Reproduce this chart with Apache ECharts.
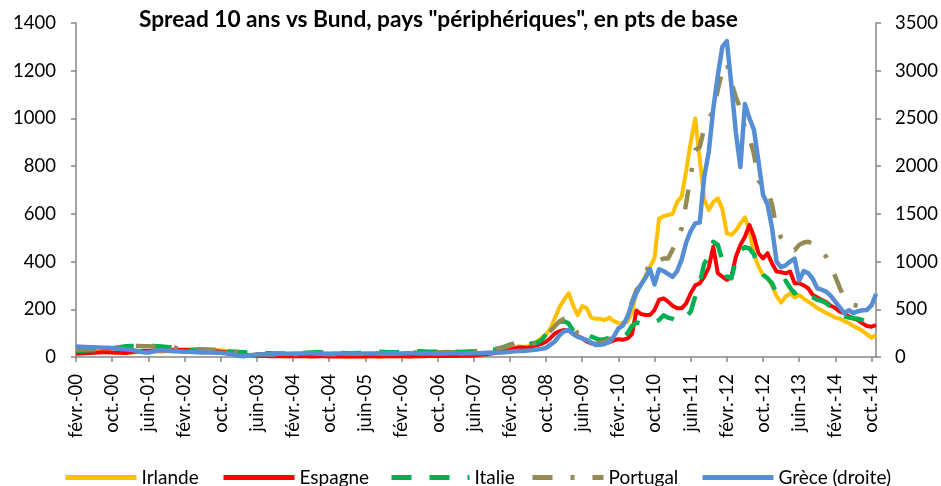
<!DOCTYPE html>
<html>
<head>
<meta charset="utf-8">
<script src="https://cdn.jsdelivr.net/npm/echarts@6/dist/echarts.min.js"></script>
<style>
html,body{margin:0;padding:0;background:#fff;}
#c{width:941px;height:486px;}
</style>
</head>
<body>
<div id="c"></div>
<script>
// Month labels (French Excel style), series run from févr.-00 to nov.-14
const monthNames = ['janv.','févr.','mars','avr.','mai','juin','juil.','août','sept.','oct.','nov.','déc.'];
const startYear = 2000, startMonth = 1, nMonths = 178;
const categories = [];
for (let k = 0; k < nMonths; k++) {
  const m = (startMonth + k) % 12;
  const y = startYear + Math.floor((startMonth + k) / 12);
  categories.push(monthNames[m] + '-' + String(y % 100).padStart(2, '0'));
}

const seriesNames = ['Irlande', 'Espagne', 'Italie', 'Portugal', 'Grèce (droite)'];

// Spreads in basis points (left axis)
const irlande = [
  18,17,18,20,20,22,21,20,19,20,19,
  18,19,20,22,24,25,24,23,22,24,25,26,
  28,30,32,34,33,32,31,30,29,28,26,22,
  18,14,12,10,8,6,5,5,4,4,4,3,
  3,3,4,4,3,3,4,5,4,4,3,3,
  3,2,2,3,3,4,3,3,2,2,3,3,
  3,3,2,2,3,3,4,4,3,3,4,4,
  5,5,6,6,7,8,12,15,18,20,24,26,
  28,33,40,45,42,45,55,65,80,95,120,165,
  210,240,267,215,176,213,205,165,160,160,155,165,
  150,142,140,148,185,280,300,340,378,415,580,590,
  595,600,650,672,780,900,1000,830,660,616,650,665,
  620,518,512,530,560,585,530,430,380,344,330,300,
  255,228,253,267,250,260,245,232,220,205,195,185,
  175,165,160,150,142,130,120,110,95,80,92
];
const espagne = [
  14,15,16,17,18,19,20,20,19,18,18,
  17,20,22,24,25,25,26,27,28,28,29,30,
  30,30,29,28,27,26,25,25,24,22,20,18,
  15,12,10,8,6,5,4,4,3,3,3,3,
  3,3,4,3,3,2,2,3,3,2,2,2,
  2,2,3,2,2,2,3,3,2,3,3,3,
  3,3,3,2,3,3,3,4,4,4,4,4,
  4,4,5,5,5,6,8,10,12,15,18,22,
  26,30,36,40,40,38,45,50,55,64,80,99,
  108,113,110,99,88,78,65,57,55,57,58,62,
  70,75,72,78,95,195,180,176,176,197,240,246,
  232,215,204,204,225,267,300,309,337,375,462,351,
  337,323,337,420,470,504,553,504,435,413,435,392,
  358,355,351,358,309,309,300,288,260,250,239,230,
  215,205,190,183,170,162,155,141,130,127,134
];
const italie = [
  25,26,27,28,28,30,32,33,35,38,42,
  45,46,46,45,45,46,46,45,44,42,40,38,
  35,32,30,28,27,26,26,25,25,24,24,23,
  22,21,20,19,18,17,16,16,16,15,15,15,
  15,16,17,18,18,19,20,20,19,18,18,18,
  17,16,16,17,18,20,21,22,22,21,20,20,
  20,21,22,24,25,24,23,22,22,23,24,24,
  23,22,21,22,23,24,25,26,28,30,32,38,
  45,52,57,55,52,50,58,60,70,95,120,141,
  148,150,140,110,99,106,95,85,78,72,75,80,
  88,92,85,99,130,145,140,148,148,148,155,175,
  165,160,150,148,169,190,253,309,392,420,483,470,
  406,337,330,406,448,460,455,430,375,345,330,309,
  267,302,320,290,267,281,275,260,250,240,235,225,
  210,190,183,170,165,162,160,155,148,150,155
];
const portugal = [
  30,30,31,32,33,34,35,36,38,40,42,
  44,45,46,46,45,45,44,44,43,42,40,38,
  36,34,33,33,32,32,31,30,30,28,26,24,
  22,20,18,16,14,12,12,11,11,10,10,10,
  10,11,12,12,13,13,14,14,13,12,12,12,
  12,12,13,14,14,15,15,16,16,16,15,15,
  15,16,17,18,19,19,18,18,19,20,20,21,
  20,20,21,22,23,24,26,28,30,32,35,38,
  42,50,57,55,52,50,55,60,70,90,110,130,
  150,160,160,127,99,85,70,57,55,60,66,71,
  100,105,135,175,230,281,300,340,406,410,405,413,
  413,450,490,540,644,760,868,880,960,1000,1030,1120,
  1200,1235,1150,1090,1040,960,920,850,740,715,700,640,
  540,500,470,455,448,470,480,483,475,465,440,420,
  385,337,290,246,225,218,215,212,210,215,220
];
// Greece, right axis
const grece = [
  110,108,105,103,102,100,98,96,94,90,85,
  80,75,68,58,48,46,58,68,72,68,64,60,
  58,56,54,52,50,48,47,46,45,44,40,32,
  22,12,8,15,22,26,28,30,31,32,33,34,
  35,36,36,37,38,38,37,36,35,35,36,36,
  36,35,34,34,35,36,37,37,36,35,35,36,
  37,37,38,38,38,37,36,36,36,37,37,38,
  38,38,37,37,38,39,40,42,44,45,46,48,
  50,55,60,62,64,68,72,78,85,95,130,165,
  230,270,283,240,210,195,178,150,126,128,135,160,
  215,300,330,420,560,670,760,830,920,760,920,900,
  870,840,900,1020,1200,1320,1400,1410,1890,2150,2600,2950,
  3250,3310,2850,2350,1990,2650,2500,2380,2050,1700,1600,1350,
  1000,940,960,1000,1030,800,900,880,820,720,705,685,
  640,580,520,460,490,460,480,490,493,540,660
];

const leftTicks = {min: 0, max: 1400, interval: 200};
const rightTicks = {min: 0, max: 3500, interval: 500};

const FONT = 'Lato';
const axisGrey = '#868686';
const colors = ['#FFC000', '#FF0000', '#00B050', '#948A54', '#558ED5'];
const dashes = ['solid', 'solid', [20, 18], [20, 18, 4, 18], 'solid'];

const chart = echarts.init(document.getElementById('c'), null, {renderer: 'canvas'});

function lineSeries(k, data, width, yIndex) {
  return {
    name: seriesNames[k],
    type: 'line',
    data: data,
    yAxisIndex: yIndex,
    symbol: 'none',
    smooth: false,
    z: 2 + k,
    lineStyle: {color: colors[k], width: width, type: dashes[k], cap: 'butt', join: 'round'},
    itemStyle: {color: colors[k]},
    emphasis: {disabled: true}
  };
}

const legendLefts = [63, 221, 389, 530, 700];
const legendWidths = [71, 71, 78, 71, 71];
const legends = seriesNames.map((n, k) => ({
  data: [n],
  left: legendLefts[k],
  top: 468,
  padding: 0,
  itemWidth: legendWidths[k],
  itemHeight: 18,
  selectedMode: false,
  itemStyle: {opacity: 0},
  lineStyle: {width: 5},
  textStyle: {fontFamily: FONT, fontSize: 19, color: '#000'}
}));

const option = {
  animation: false,
  backgroundColor: '#ffffff',
  title: {
    text: 'Spread 10 ans vs Bund, pays "périphériques", en pts de base',
    left: 139,
    top: 8,
    padding: 0,
    textStyle: {fontFamily: FONT, fontWeight: 'bold', fontSize: 22.7, color: '#000'}
  },
  legend: legends,
  grid: {left: 76, right: 65, top: 23, bottom: 129, containLabel: false},
  xAxis: {
    type: 'category',
    data: categories,
    boundaryGap: false,
    axisLine: {show: true, lineStyle: {color: axisGrey, width: 1.5}},
    axisTick: {show: true, interval: 7, length: 5, lineStyle: {color: axisGrey, width: 1.5}},
    axisLabel: {interval: 7, rotate: 90, margin: 17, fontFamily: FONT, fontSize: 18.5, color: '#000'},
    splitLine: {show: false}
  },
  yAxis: [
    {
      type: 'value', position: 'left',
      min: leftTicks.min, max: leftTicks.max, interval: leftTicks.interval,
      axisLine: {show: true, lineStyle: {color: axisGrey, width: 1.5}},
      axisTick: {show: true, length: 5, lineStyle: {color: axisGrey, width: 1.5}},
      axisLabel: {margin: 20, fontFamily: FONT, fontSize: 18.5, color: '#000', formatter: v => String(v)},
      splitLine: {show: false}
    },
    {
      type: 'value', position: 'right',
      min: rightTicks.min, max: rightTicks.max, interval: rightTicks.interval,
      axisLine: {show: true, lineStyle: {color: axisGrey, width: 1.5}},
      axisTick: {show: true, length: 5, lineStyle: {color: axisGrey, width: 1.5}},
      axisLabel: {margin: 19, fontFamily: FONT, fontSize: 18.5, color: '#000', formatter: v => String(v)},
      splitLine: {show: false}
    }
  ],
  series: [
    lineSeries(0, irlande, 4, 0),
    lineSeries(1, espagne, 4, 0),
    lineSeries(2, italie, 4.5, 0),
    lineSeries(3, portugal, 4.5, 0),
    lineSeries(4, grece, 4.5, 1)
  ]
};
chart.setOption(option);
</script>
</body>
</html>
